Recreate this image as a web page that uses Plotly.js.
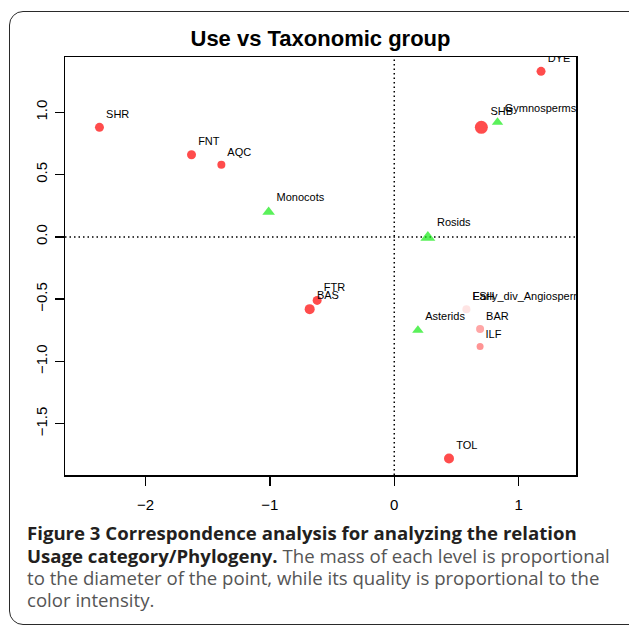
<!DOCTYPE html>
<html>
<head>
<meta charset="utf-8">
<script src="https://cdn.plot.ly/plotly-3.0.1.min.js"></script>
<style>
  html, body { margin:0; padding:0; background:#fff; overflow:hidden; }
  #wrap { position:relative; width:629px; height:628px; }
  #frame { position:absolute; left:9px; top:11px; width:660px; height:614px;
           border:1.5px solid #2a2a2a; border-radius:14px; box-sizing:border-box; }
  #chart { position:absolute; left:0; top:0; width:629px; height:628px; }
</style>
</head>
<body>
<div id="wrap"><div id="frame"></div><div id="chart"></div></div>
<script>
// Usage categories (rows)
const uses      = ['SHR','FNT','AQC','FTR','BAS','DYE','SHB','FSH','BAR','ILF','TOL'];
const useDim1   = [-2.37,-1.63,-1.39,-0.62,-0.68,1.18,0.70,0.58,0.69,0.69,0.44];
const useDim2   = [0.88,0.66,0.58,-0.51,-0.58,1.33,0.88,-0.58,-0.74,-0.88,-1.78];
const useMass   = [9,9,8,9,10,9,13,8,8,7,10];
const useQual   = [1,1,1,1,1,1,1,0.15,0.5,0.6,1];

// Taxonomic groups (columns)
const taxa      = ['Early_div_Angiosperms','Monocots','Gymnosperms','Rosids','Asterids'];
const taxaDim1  = [0.58,-1.01,0.83,0.27,0.19];
const taxaDim2  = [-0.58,0.20,0.92,-0.005,-0.75];
const taxaMass  = [8,11,10,13,10];
const taxaQual  = [0.03,1,1,1,1];

const xTicks = [-2,-1,0,1];
const yTicks = [-1.5,-1.0,-0.5,0.0,0.5,1.0];

function shade(base, q){
  return 'rgb(' + base.map(c => Math.round(255 - (255 - c) * q)).join(',') + ')';
}

const W = 629, H = 628, L = 65, R = 53, T = 57, B = 153;
const pw = W - L - R, ph = H - T - B;
const px = x => (x - L) / pw;
const py = y => (H - B - y) / ph;

const labelFont = {family:'Liberation Sans, Arial, sans-serif', size:11, color:'#000'};

const traces = [
  {
    type:'scatter', mode:'markers+text', x: taxaDim1, y: taxaDim2, text: taxa,
    textposition:'top right', cliponaxis:true, textfont: labelFont,
    marker:{symbol:'triangle-up', size: taxaMass, color: taxaQual.map(q => shade([20,235,20], q)), line:{width:0}},
    hoverinfo:'text', showlegend:false
  },
  {
    type:'scatter', mode:'markers+text', x: useDim1, y: useDim2, text: uses,
    textposition:'top right', cliponaxis:true, textfont: labelFont,
    marker:{symbol:'circle', size: useMass, color: useQual.map(q => shade([255,0,0], q)), line:{width:0}},
    hoverinfo:'text', showlegend:false
  }
];

const tickFont = {family:'Liberation Sans, Arial, sans-serif', size:15, color:'#000'};
const capFont = 'Open Sans, Noto Sans, sans-serif';

const captionLines = [
  '<b>Figure 3 Correspondence analysis for analyzing the relation</b>',
  '<b>Usage category/Phylogeny.</b><span style="color:#555"> The mass of each level is proportional</span>',
  'to the diameter of the point, while its quality is proportional to the',
  'color intensity.'
];
const captionY = [532, 555, 577, 599];

const annotations = captionLines.map((t, i) => ({
  xref:'paper', yref:'paper', x: px(25), y: py(captionY[i]),
  xanchor:'left', yanchor:'middle', showarrow:false, align:'left',
  text: t, font:{family:capFont, size:18.6, color: i < 2 ? '#231f20' : '#555'}
}));

const layout = {
  width: W, height: H,
  margin:{l:L, r:R, t:T, b:B, pad:0},
  paper_bgcolor:'rgba(0,0,0,0)', plot_bgcolor:'rgba(0,0,0,0)',
  title:{text:'<b>Use vs Taxonomic group</b>', x:0.5, xref:'paper', y: 1 - 38/H, yref:'container',
         xanchor:'center', yanchor:'middle',
         font:{family:'Liberation Sans, Arial, sans-serif', size:22, color:'#000'}},
  xaxis:{range:[-2.647,1.461], tickvals:xTicks, ticktext:xTicks.map(v => v < 0 ? '\u2212' + Math.abs(v) : String(v)),
         showgrid:false, zeroline:false, showline:true, mirror:true, linecolor:'#000', linewidth:1.5,
         ticks:'outside', ticklen:9, tickwidth:1.5, tickcolor:'#000', tickfont:tickFont, ticklabelstandoff:6},
  yaxis:{range:[-1.912,1.445], tickvals:yTicks, ticktext:yTicks.map(v => (v < 0 ? '\u2212' : '') + Math.abs(v).toFixed(1)),
         tickangle:-90,
         showgrid:false, zeroline:false, showline:true, mirror:true, linecolor:'#000', linewidth:1.5,
         ticks:'outside', ticklen:9, tickwidth:1.5, tickcolor:'#000', tickfont:tickFont, ticklabelstandoff:2},
  shapes:[
    {type:'line', xref:'x', yref:'paper', x0:0, x1:0, y0:0, y1:1, line:{color:'#000', width:1.5, dash:'1.5px,3px'}, layer:'below'},
    {type:'line', xref:'paper', yref:'y', x0:0, x1:1, y0:0, y1:0, line:{color:'#000', width:1.5, dash:'1.5px,3px'}, layer:'below'}
  ],
  annotations: annotations
};

Plotly.newPlot('chart', traces, layout, {displayModeBar:false, staticPlot:true});
</script>
</body>
</html>
